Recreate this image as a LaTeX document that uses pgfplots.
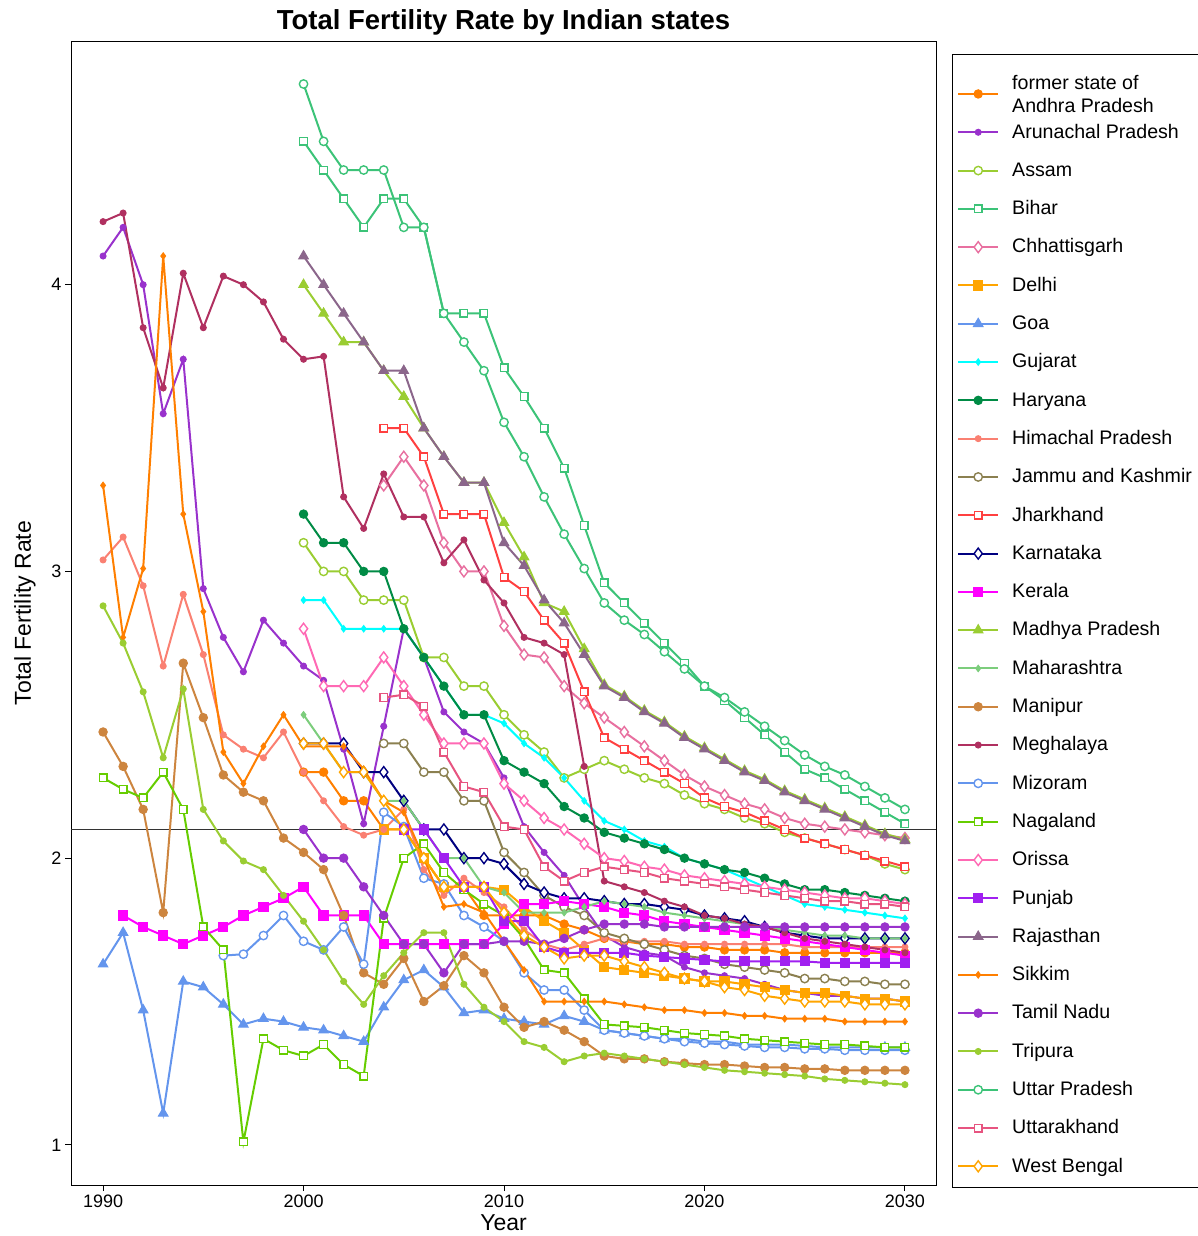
\documentclass[border=0pt]{standalone}
\usepackage{pgfplots}
\pgfplotsset{compat=1.18}
\usepackage{fontspec}
\setmainfont{Liberation Sans}
\definecolor{cAP}{RGB}{255,127,0}
\definecolor{cAR}{RGB}{153,50,204}
\definecolor{cYG}{RGB}{154,205,50}
\definecolor{cBI}{RGB}{60,195,120}
\definecolor{cCH}{RGB}{232,112,160}
\definecolor{cDL}{RGB}{255,165,0}
\definecolor{cGO}{RGB}{100,149,237}
\definecolor{cGU}{RGB}{0,255,255}
\definecolor{cHA}{RGB}{0,139,69}
\definecolor{cHP}{RGB}{250,128,114}
\definecolor{cJK}{RGB}{139,128,80}
\definecolor{cJH}{RGB}{255,64,64}
\definecolor{cKA}{RGB}{0,0,128}
\definecolor{cKE}{RGB}{255,0,255}
\definecolor{cMH}{RGB}{124,205,124}
\definecolor{cMN}{RGB}{205,133,63}
\definecolor{cME}{RGB}{176,48,96}
\definecolor{cNA}{RGB}{102,205,0}
\definecolor{cOR}{RGB}{255,105,180}
\definecolor{cPU}{RGB}{160,32,240}
\definecolor{cRA}{RGB}{139,102,139}
\definecolor{cUK}{RGB}{231,84,128}
\pgfplotsset{
 bigdot/.style={color=#1, mark=*, mark size=4.2pt, mark options={solid, fill=#1, line width=1pt}},
 smalldot/.style={color=#1, mark=*, mark size=3pt, mark options={solid, fill=#1, line width=1pt}},
 ocirc/.style={color=#1, mark=*, mark size=4.2pt, mark options={solid, fill=white, line width=1.4pt}},
 osq/.style={color=#1, mark=square*, mark size=3.8pt, mark options={solid, fill=white, line width=1.4pt}},
 fsq/.style={color=#1, mark=square*, mark size=4.6pt, mark options={solid, fill=#1, line width=1pt}},
 tri/.style={color=#1, mark=triangle*, mark size=5.5pt, mark options={solid, fill=#1, line width=1pt}},
 odia/.style={color=#1, mark=diamond*, mark size=5.5pt, mark options={solid, fill=white, line width=1.4pt}},
 sdia/.style={color=#1, mark=diamond*, mark size=3.2pt, mark options={solid, fill=#1, line width=1pt}},
}
\begin{document}
\begin{tikzpicture}[x=1pt,y=1pt]
\useasboundingbox (0,0) rectangle (1198,1236);
\begin{axis}[
  at={(71pt,51pt)}, anchor=south west,
  width=865pt, height=1144pt, scale only axis,
  xmin=1988.4, xmax=2031.55, ymin=0.86, ymax=4.85,
  xtick={1990,2000,2010,2020,2030}, ytick={1,2,3,4},
  /pgf/number format/assume math mode=true,
  x tick label style={/pgf/number format/1000 sep={}},
  tick label style={font=\fontsize{18}{21}\selectfont, black},
  tick align=outside, tick pos=left, major tick length=6pt,
  every tick/.style={black, line width=1pt},
  axis line style={line width=1pt},
  title={\fontsize{27.5}{32}\selectfont\bfseries Total Fertility Rate by Indian states},
  title style={at={(0.5,1)}, anchor=south, yshift=-4pt},
  xlabel={\fontsize{23}{26}\selectfont Year},
  ylabel={\fontsize{23}{26}\selectfont Total Fertility Rate},
  xlabel style={yshift=-1pt},
  ylabel style={yshift=9pt},
  every axis plot/.append style={line width=2pt},
  legend style={at={(rel axis cs:1.02428,0.96198)}, anchor=north west, draw=none, fill=none,
    font=\fontsize{19.6}{24}\selectfont, inner sep=0pt,
    row sep=19.8pt, column sep=11pt,
    cells={anchor=west, inner sep=0pt, text height=13pt, text depth=4pt}},
  legend image code/.code={\draw[mark repeat=2,mark phase=2] plot coordinates {(0pt,0pt) (20pt,0pt) (40pt,0pt)};},
]
\draw[color=black!80, line width=1pt] (axis cs:1988.4,2.1) -- (axis cs:2031.55,2.1);
% Andhra Pradesh
\addplot[bigdot=cAP] coordinates {(2000,2.30)(2001,2.30)(2002,2.20)(2003,2.20)(2004,2.10)(2005,2.10)(2006,2.00)(2007,1.90)(2008,1.90)(2009,1.80)(2010,1.80)(2011,1.80)(2012,1.80)(2013,1.77)(2014,1.75)(2015,1.72)(2016,1.71)(2017,1.70)(2018,1.70)(2019,1.69)(2020,1.69)(2021,1.68)(2022,1.68)(2023,1.68)(2024,1.67)(2025,1.67)(2026,1.67)(2027,1.67)(2028,1.67)(2029,1.67)(2030,1.67)};
\addlegendentry{\raisebox{-1.5pt}[13pt][4pt]{\begin{tabular}{@{}l@{}}former state of\\[-1pt]Andhra Pradesh\end{tabular}}}
% Arunachal
\addplot[smalldot=cAR] coordinates {(1990,4.10)(1991,4.20)(1992,4.00)(1993,3.55)(1994,3.74)(1995,2.94)(1996,2.77)(1997,2.65)(1998,2.83)(1999,2.75)(2000,2.67)(2001,2.62)(2002,2.38)(2003,2.12)(2004,2.46)(2005,2.80)(2006,2.70)(2007,2.51)(2008,2.44)(2009,2.40)(2010,2.28)(2011,2.11)(2012,2.02)(2013,1.94)(2014,1.83)(2015,1.73)(2016,1.69)(2017,1.67)(2018,1.66)(2019,1.62)(2020,1.60)(2021,1.59)(2022,1.58)(2023,1.56)(2024,1.54)(2025,1.53)(2026,1.52)(2027,1.52)(2028,1.51)(2029,1.51)(2030,1.50)};
\addlegendentry{Arunachal Pradesh}
% Assam
\addplot[ocirc=cYG] coordinates {(2000,3.10)(2001,3.00)(2002,3.00)(2003,2.90)(2004,2.90)(2005,2.90)(2006,2.70)(2007,2.70)(2008,2.60)(2009,2.60)(2010,2.50)(2011,2.43)(2012,2.37)(2013,2.28)(2014,2.31)(2015,2.34)(2016,2.31)(2017,2.28)(2018,2.26)(2019,2.22)(2020,2.19)(2021,2.17)(2022,2.14)(2023,2.12)(2024,2.09)(2025,2.07)(2026,2.05)(2027,2.03)(2028,2.01)(2029,1.98)(2030,1.96)};
\addlegendentry{Assam}
% Bihar
\addplot[osq=cBI] coordinates {(2000,4.50)(2001,4.40)(2002,4.30)(2003,4.20)(2004,4.30)(2005,4.30)(2006,4.20)(2007,3.90)(2008,3.90)(2009,3.90)(2010,3.71)(2011,3.61)(2012,3.50)(2013,3.36)(2014,3.16)(2015,2.96)(2016,2.89)(2017,2.82)(2018,2.75)(2019,2.68)(2020,2.60)(2021,2.55)(2022,2.49)(2023,2.43)(2024,2.37)(2025,2.31)(2026,2.28)(2027,2.24)(2028,2.20)(2029,2.16)(2030,2.12)};
\addlegendentry{Bihar}
% Chhattisgarh
\addplot[odia=cCH] coordinates {(2004,3.30)(2005,3.40)(2006,3.30)(2007,3.10)(2008,3.00)(2009,3.00)(2010,2.81)(2011,2.71)(2012,2.70)(2013,2.60)(2014,2.54)(2015,2.49)(2016,2.44)(2017,2.39)(2018,2.34)(2019,2.29)(2020,2.25)(2021,2.22)(2022,2.19)(2023,2.17)(2024,2.14)(2025,2.12)(2026,2.11)(2027,2.10)(2028,2.09)(2029,2.08)(2030,2.07)};
\addlegendentry{Chhattisgarh}
% Delhi
\addplot[fsq=cDL] coordinates {(2004,2.10)(2005,2.10)(2006,2.00)(2007,1.90)(2008,1.90)(2009,1.90)(2010,1.89)(2011,1.83)(2012,1.78)(2013,1.74)(2014,1.68)(2015,1.62)(2016,1.61)(2017,1.60)(2018,1.59)(2019,1.58)(2020,1.57)(2021,1.57)(2022,1.56)(2023,1.55)(2024,1.54)(2025,1.53)(2026,1.53)(2027,1.52)(2028,1.51)(2029,1.51)(2030,1.50)};
\addlegendentry{Delhi}
% Goa
\addplot[tri=cGO] coordinates {(1990,1.63)(1991,1.74)(1992,1.47)(1993,1.11)(1994,1.57)(1995,1.55)(1996,1.49)(1997,1.42)(1998,1.44)(1999,1.43)(2000,1.41)(2001,1.40)(2002,1.38)(2003,1.36)(2004,1.48)(2005,1.575)(2006,1.61)(2007,1.55)(2008,1.46)(2009,1.47)(2010,1.44)(2011,1.43)(2012,1.42)(2013,1.45)(2014,1.43)(2015,1.40)(2016,1.39)(2017,1.38)(2018,1.37)(2019,1.37)(2020,1.36)(2021,1.36)(2022,1.35)(2023,1.35)(2024,1.35)(2025,1.345)(2026,1.34)(2027,1.34)(2028,1.34)(2029,1.34)(2030,1.34)};
\addlegendentry{Goa}
% Gujarat
\addplot[sdia=cGU] coordinates {(2000,2.90)(2001,2.90)(2002,2.80)(2003,2.80)(2004,2.80)(2005,2.80)(2006,2.70)(2007,2.60)(2008,2.50)(2009,2.50)(2010,2.47)(2011,2.40)(2012,2.35)(2013,2.28)(2014,2.20)(2015,2.13)(2016,2.10)(2017,2.06)(2018,2.04)(2019,2.00)(2020,1.98)(2021,1.96)(2022,1.93)(2023,1.90)(2024,1.87)(2025,1.84)(2026,1.83)(2027,1.82)(2028,1.81)(2029,1.80)(2030,1.79)};
\addlegendentry{Gujarat}
% Haryana
\addplot[bigdot=cHA] coordinates {(2000,3.20)(2001,3.10)(2002,3.10)(2003,3.00)(2004,3.00)(2005,2.80)(2006,2.70)(2007,2.60)(2008,2.50)(2009,2.50)(2010,2.34)(2011,2.30)(2012,2.26)(2013,2.18)(2014,2.14)(2015,2.09)(2016,2.07)(2017,2.05)(2018,2.03)(2019,2.00)(2020,1.98)(2021,1.96)(2022,1.95)(2023,1.93)(2024,1.91)(2025,1.89)(2026,1.89)(2027,1.88)(2028,1.87)(2029,1.86)(2030,1.85)};
\addlegendentry{Haryana}
% Himachal
\addplot[smalldot=cHP] coordinates {(1990,3.04)(1991,3.12)(1992,2.95)(1993,2.67)(1994,2.92)(1995,2.71)(1996,2.43)(1997,2.38)(1998,2.35)(1999,2.44)(2000,2.30)(2001,2.20)(2002,2.11)(2003,2.08)(2004,2.10)(2005,2.17)(2006,1.96)(2007,1.87)(2008,1.93)(2009,1.88)(2010,1.83)(2011,1.75)(2012,1.70)(2013,1.68)(2014,1.70)(2015,1.72)(2016,1.71)(2017,1.71)(2018,1.71)(2019,1.70)(2020,1.70)(2021,1.70)(2022,1.70)(2023,1.70)(2024,1.70)(2025,1.69)(2026,1.69)(2027,1.69)(2028,1.69)(2029,1.69)(2030,1.69)};
\addlegendentry{Himachal Pradesh}
% J&K
\addplot[ocirc=cJK] coordinates {(2004,2.40)(2005,2.40)(2006,2.30)(2007,2.30)(2008,2.20)(2009,2.20)(2010,2.02)(2011,1.95)(2012,1.87)(2013,1.83)(2014,1.80)(2015,1.74)(2016,1.72)(2017,1.70)(2018,1.68)(2019,1.66)(2020,1.65)(2021,1.63)(2022,1.62)(2023,1.61)(2024,1.60)(2025,1.58)(2026,1.58)(2027,1.57)(2028,1.57)(2029,1.56)(2030,1.56)};
\addlegendentry{Jammu and Kashmir}
% Jharkhand
\addplot[osq=cJH] coordinates {(2004,3.50)(2005,3.50)(2006,3.40)(2007,3.20)(2008,3.20)(2009,3.20)(2010,2.98)(2011,2.93)(2012,2.83)(2013,2.75)(2014,2.58)(2015,2.42)(2016,2.38)(2017,2.34)(2018,2.30)(2019,2.26)(2020,2.21)(2021,2.18)(2022,2.16)(2023,2.13)(2024,2.10)(2025,2.07)(2026,2.05)(2027,2.03)(2028,2.01)(2029,1.99)(2030,1.97)};
\addlegendentry{Jharkhand}
% Karnataka
\addplot[odia=cKA] coordinates {(2000,2.40)(2001,2.40)(2002,2.40)(2003,2.30)(2004,2.30)(2005,2.20)(2006,2.10)(2007,2.10)(2008,2.00)(2009,2.00)(2010,1.98)(2011,1.91)(2012,1.88)(2013,1.86)(2014,1.86)(2015,1.85)(2016,1.84)(2017,1.84)(2018,1.83)(2019,1.82)(2020,1.80)(2021,1.79)(2022,1.78)(2023,1.76)(2024,1.74)(2025,1.73)(2026,1.72)(2027,1.72)(2028,1.72)(2029,1.72)(2030,1.72)};
\addlegendentry{Karnataka}
% Kerala
\addplot[fsq=cKE] coordinates {(1991,1.80)(1992,1.76)(1993,1.73)(1994,1.70)(1995,1.73)(1996,1.76)(1997,1.80)(1998,1.83)(1999,1.86)(2000,1.90)(2001,1.80)(2002,1.80)(2003,1.80)(2004,1.70)(2005,1.70)(2006,1.70)(2007,1.70)(2008,1.70)(2009,1.70)(2010,1.77)(2011,1.84)(2012,1.84)(2013,1.85)(2014,1.84)(2015,1.83)(2016,1.81)(2017,1.80)(2018,1.78)(2019,1.77)(2020,1.76)(2021,1.75)(2022,1.74)(2023,1.73)(2024,1.72)(2025,1.71)(2026,1.70)(2027,1.69)(2028,1.68)(2029,1.67)(2030,1.66)};
\addlegendentry{Kerala}
% Madhya Pradesh
\addplot[tri=cYG] coordinates {(2000,4.00)(2001,3.90)(2002,3.80)(2003,3.80)(2004,3.70)(2005,3.61)(2006,3.50)(2007,3.40)(2008,3.31)(2009,3.31)(2010,3.17)(2011,3.05)(2012,2.89)(2013,2.86)(2014,2.73)(2015,2.605)(2016,2.565)(2017,2.515)(2018,2.475)(2019,2.425)(2020,2.385)(2021,2.345)(2022,2.305)(2023,2.275)(2024,2.235)(2025,2.205)(2026,2.175)(2027,2.145)(2028,2.115)(2029,2.085)(2030,2.065)};
\addlegendentry{Madhya Pradesh}
% Maharashtra
\addplot[sdia=cMH] coordinates {(2000,2.50)(2001,2.40)(2002,2.30)(2003,2.30)(2004,2.20)(2005,2.20)(2006,2.10)(2007,2.00)(2008,2.00)(2009,1.90)(2010,1.88)(2011,1.81)(2012,1.81)(2013,1.81)(2014,1.83)(2015,1.85)(2016,1.84)(2017,1.83)(2018,1.81)(2019,1.80)(2020,1.79)(2021,1.78)(2022,1.77)(2023,1.76)(2024,1.75)(2025,1.74)(2026,1.73)(2027,1.73)(2028,1.72)(2029,1.72)(2030,1.72)};
\addlegendentry{Maharashtra}
% Manipur
\addplot[bigdot=cMN] coordinates {(1990,2.44)(1991,2.32)(1992,2.17)(1993,1.81)(1994,2.68)(1995,2.49)(1996,2.29)(1997,2.23)(1998,2.20)(1999,2.07)(2000,2.02)(2001,1.96)(2002,1.80)(2003,1.60)(2004,1.56)(2005,1.65)(2006,1.50)(2007,1.555)(2008,1.66)(2009,1.60)(2010,1.48)(2011,1.41)(2012,1.43)(2013,1.40)(2014,1.36)(2015,1.31)(2016,1.30)(2017,1.30)(2018,1.29)(2019,1.285)(2020,1.28)(2021,1.28)(2022,1.275)(2023,1.27)(2024,1.27)(2025,1.265)(2026,1.265)(2027,1.26)(2028,1.26)(2029,1.26)(2030,1.26)};
\addlegendentry{Manipur}
% Meghalaya
\addplot[smalldot=cME] coordinates {(1990,4.22)(1991,4.25)(1992,3.85)(1993,3.64)(1994,4.04)(1995,3.85)(1996,4.03)(1997,4.00)(1998,3.94)(1999,3.81)(2000,3.74)(2001,3.75)(2002,3.26)(2003,3.15)(2004,3.34)(2005,3.19)(2006,3.19)(2007,3.03)(2008,3.11)(2009,2.97)(2010,2.89)(2011,2.77)(2012,2.75)(2013,2.71)(2014,2.32)(2015,1.92)(2016,1.90)(2017,1.88)(2018,1.85)(2019,1.83)(2020,1.80)(2021,1.79)(2022,1.77)(2023,1.76)(2024,1.74)(2025,1.72)(2026,1.71)(2027,1.70)(2028,1.69)(2029,1.68)(2030,1.67)};
\addlegendentry{Meghalaya}
% Mizoram
\addplot[ocirc=cGO] coordinates {(1996,1.66)(1997,1.665)(1998,1.73)(1999,1.80)(2000,1.71)(2001,1.68)(2002,1.76)(2003,1.63)(2004,2.16)(2005,2.11)(2006,1.93)(2007,1.91)(2008,1.80)(2009,1.76)(2010,1.71)(2011,1.60)(2012,1.54)(2013,1.54)(2014,1.47)(2015,1.40)(2016,1.39)(2017,1.38)(2018,1.37)(2019,1.36)(2020,1.355)(2021,1.35)(2022,1.345)(2023,1.34)(2024,1.34)(2025,1.335)(2026,1.335)(2027,1.33)(2028,1.33)(2029,1.33)(2030,1.33)};
\addlegendentry{Mizoram}
% Nagaland
\addplot[osq=cNA] coordinates {(1990,2.28)(1991,2.24)(1992,2.21)(1993,2.30)(1994,2.17)(1995,1.76)(1996,1.68)(1997,1.01)(1998,1.37)(1999,1.33)(2000,1.31)(2001,1.35)(2002,1.28)(2003,1.24)(2004,1.79)(2005,2.00)(2006,2.05)(2007,1.95)(2008,1.89)(2009,1.84)(2010,1.80)(2011,1.72)(2012,1.61)(2013,1.60)(2014,1.51)(2015,1.42)(2016,1.415)(2017,1.41)(2018,1.40)(2019,1.39)(2020,1.385)(2021,1.38)(2022,1.37)(2023,1.365)(2024,1.36)(2025,1.355)(2026,1.35)(2027,1.35)(2028,1.345)(2029,1.34)(2030,1.34)};
\addlegendentry{Nagaland}
% Orissa
\addplot[odia=cOR] coordinates {(2000,2.80)(2001,2.60)(2002,2.60)(2003,2.60)(2004,2.70)(2005,2.60)(2006,2.50)(2007,2.40)(2008,2.40)(2009,2.40)(2010,2.26)(2011,2.20)(2012,2.14)(2013,2.10)(2014,2.05)(2015,2.00)(2016,1.99)(2017,1.97)(2018,1.96)(2019,1.94)(2020,1.93)(2021,1.92)(2022,1.91)(2023,1.90)(2024,1.89)(2025,1.88)(2026,1.87)(2027,1.86)(2028,1.86)(2029,1.85)(2030,1.84)};
\addlegendentry{Orissa}
% Punjab
\addplot[fsq=cPU] coordinates {(2005,2.10)(2006,2.10)(2007,2.00)(2008,1.90)(2009,1.90)(2010,1.78)(2011,1.78)(2012,1.69)(2013,1.67)(2014,1.67)(2015,1.67)(2016,1.67)(2017,1.66)(2018,1.655)(2019,1.65)(2020,1.645)(2021,1.64)(2022,1.64)(2023,1.64)(2024,1.64)(2025,1.64)(2026,1.635)(2027,1.635)(2028,1.635)(2029,1.635)(2030,1.635)};
\addlegendentry{Punjab}
% Rajasthan
\addplot[tri=cRA] coordinates {(2000,4.10)(2001,4.00)(2002,3.90)(2003,3.80)(2004,3.70)(2005,3.70)(2006,3.50)(2007,3.40)(2008,3.31)(2009,3.31)(2010,3.10)(2011,3.02)(2012,2.90)(2013,2.82)(2014,2.71)(2015,2.60)(2016,2.56)(2017,2.51)(2018,2.47)(2019,2.42)(2020,2.38)(2021,2.34)(2022,2.30)(2023,2.27)(2024,2.23)(2025,2.20)(2026,2.17)(2027,2.14)(2028,2.11)(2029,2.08)(2030,2.06)};
\addlegendentry{Rajasthan}
% Sikkim
\addplot[sdia=cAP] coordinates {(1990,3.30)(1991,2.77)(1992,3.01)(1993,4.10)(1994,3.20)(1995,2.86)(1996,2.37)(1997,2.26)(1998,2.39)(1999,2.50)(2000,2.39)(2001,2.39)(2002,2.39)(2003,2.31)(2004,2.20)(2005,2.16)(2006,2.00)(2007,1.83)(2008,1.84)(2009,1.81)(2010,1.71)(2011,1.61)(2012,1.50)(2013,1.50)(2014,1.50)(2015,1.50)(2016,1.49)(2017,1.48)(2018,1.47)(2019,1.47)(2020,1.46)(2021,1.46)(2022,1.45)(2023,1.45)(2024,1.44)(2025,1.44)(2026,1.44)(2027,1.43)(2028,1.43)(2029,1.43)(2030,1.43)};
\addlegendentry{Sikkim}
% Tamil Nadu
\addplot[bigdot=cAR] coordinates {(2000,2.10)(2001,2.00)(2002,2.00)(2003,1.90)(2004,1.80)(2005,1.70)(2006,1.70)(2007,1.60)(2008,1.70)(2009,1.70)(2010,1.71)(2011,1.71)(2012,1.70)(2013,1.72)(2014,1.75)(2015,1.77)(2016,1.77)(2017,1.77)(2018,1.76)(2019,1.76)(2020,1.76)(2021,1.76)(2022,1.76)(2023,1.76)(2024,1.76)(2025,1.76)(2026,1.76)(2027,1.76)(2028,1.76)(2029,1.76)(2030,1.76)};
\addlegendentry{Tamil Nadu}
% Tripura
\addplot[smalldot=cYG] coordinates {(1990,2.88)(1991,2.75)(1992,2.58)(1993,2.35)(1994,2.59)(1995,2.17)(1996,2.06)(1997,1.99)(1998,1.96)(1999,1.87)(2000,1.78)(2001,1.68)(2002,1.57)(2003,1.49)(2004,1.59)(2005,1.67)(2006,1.74)(2007,1.74)(2008,1.56)(2009,1.48)(2010,1.43)(2011,1.36)(2012,1.34)(2013,1.29)(2014,1.31)(2015,1.32)(2016,1.31)(2017,1.30)(2018,1.29)(2019,1.28)(2020,1.27)(2021,1.26)(2022,1.255)(2023,1.25)(2024,1.245)(2025,1.24)(2026,1.23)(2027,1.225)(2028,1.22)(2029,1.215)(2030,1.21)};
\addlegendentry{Tripura}
% Uttar Pradesh
\addplot[ocirc=cBI] coordinates {(2000,4.70)(2001,4.50)(2002,4.40)(2003,4.40)(2004,4.40)(2005,4.20)(2006,4.20)(2007,3.90)(2008,3.80)(2009,3.70)(2010,3.52)(2011,3.40)(2012,3.26)(2013,3.13)(2014,3.01)(2015,2.89)(2016,2.83)(2017,2.78)(2018,2.72)(2019,2.66)(2020,2.60)(2021,2.56)(2022,2.51)(2023,2.46)(2024,2.41)(2025,2.36)(2026,2.32)(2027,2.29)(2028,2.25)(2029,2.21)(2030,2.17)};
\addlegendentry{Uttar Pradesh}
% Uttarakhand
\addplot[osq=cUK] coordinates {(2004,2.56)(2005,2.57)(2006,2.53)(2007,2.37)(2008,2.25)(2009,2.23)(2010,2.11)(2011,2.10)(2012,1.97)(2013,1.92)(2014,1.95)(2015,1.97)(2016,1.96)(2017,1.95)(2018,1.93)(2019,1.92)(2020,1.91)(2021,1.90)(2022,1.89)(2023,1.88)(2024,1.87)(2025,1.86)(2026,1.85)(2027,1.85)(2028,1.84)(2029,1.84)(2030,1.83)};
\addlegendentry{Uttarakhand}
% West Bengal
\addplot[odia=cDL] coordinates {(2000,2.40)(2001,2.40)(2002,2.30)(2003,2.30)(2004,2.20)(2005,2.10)(2006,2.00)(2007,1.90)(2008,1.90)(2009,1.90)(2010,1.81)(2011,1.73)(2012,1.69)(2013,1.65)(2014,1.66)(2015,1.66)(2016,1.64)(2017,1.62)(2018,1.60)(2019,1.58)(2020,1.57)(2021,1.55)(2022,1.54)(2023,1.52)(2024,1.51)(2025,1.50)(2026,1.50)(2027,1.50)(2028,1.49)(2029,1.49)(2030,1.49)};
\addlegendentry{West Bengal}
\end{axis}
\draw[line width=1pt] (1215,1181) -- (952,1181) -- (952,48) -- (1215,48);
\end{tikzpicture}
\end{document}
